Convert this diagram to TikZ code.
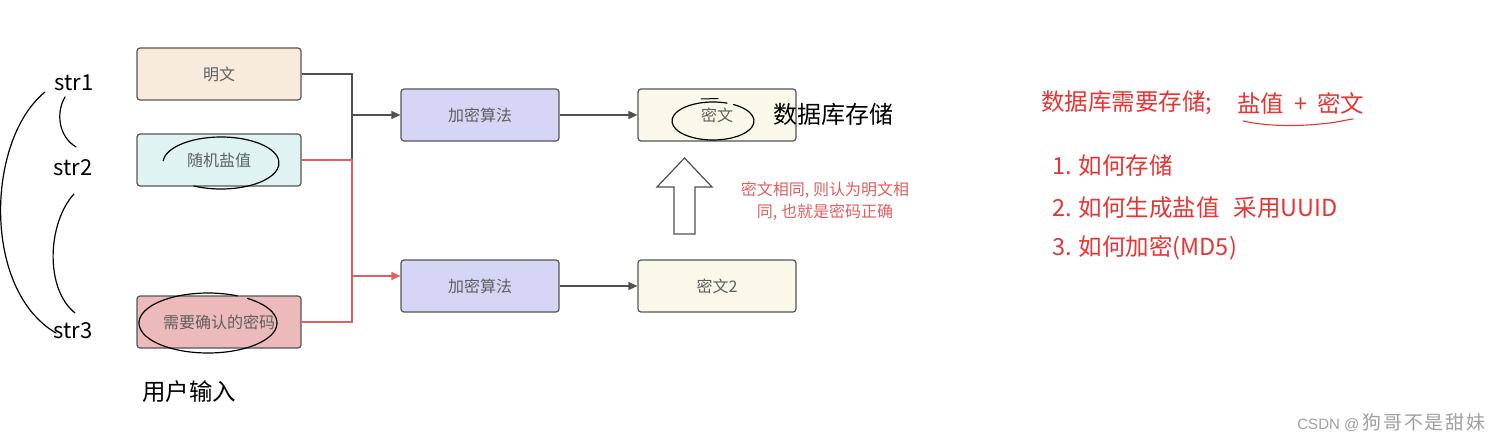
\documentclass[tikz,border=0pt]{standalone}
\usepackage{fontspec}
\setmainfont{Noto Sans CJK SC}
\newfontfamily\wmlatin{Liberation Sans}
\usetikzlibrary{arrows.meta}
\definecolor{boxline}{RGB}{85,85,85}
\definecolor{boxtext}{RGB}{95,95,95}
\definecolor{cPeach}{RGB}{248,234,220}
\definecolor{cCyan}{RGB}{223,243,243}
\definecolor{cPink}{RGB}{236,186,186}
\definecolor{cLav}{RGB}{213,214,245}
\definecolor{cCream}{RGB}{250,248,232}
\definecolor{gline}{RGB}{80,80,80}
\definecolor{rline}{RGB}{226,95,95}
\definecolor{redtxt}{RGB}{232,52,52}
\definecolor{notetxt}{RGB}{225,95,95}
\definecolor{wm}{RGB}{160,160,160}
\begin{document}
\begin{tikzpicture}[x=1pt,y=-1pt,
  box/.style={draw=boxline,line width=1.2pt,rounded corners=3pt,minimum width=164pt,minimum height=52pt,inner sep=0pt,font=\fontsize{16}{19}\selectfont,text=boxtext},
  gconn/.style={draw=gline,line width=1.3pt},
  rconn/.style={draw=rline,line width=1.3pt},
  tip/.style={-{Triangle[length=9pt,width=8pt]}},
  scribble/.style={draw=black,line width=1.2pt,line cap=round},
  lbl/.style={inner sep=0pt,font=\fontsize{22}{26}\selectfont},
  redlbl/.style={inner sep=0pt,font=\fontsize{23.5}{27}\selectfont,text=redtxt,anchor=west}]
\useasboundingbox[fill=white] (0,0) rectangle (1500,444);

% boxes
\node[box,fill=cPeach] (mw) at (219,74) {明文};
\node[box,fill=cCyan] (salt) at (219,160) {随机盐值};
\node[box,fill=cPink] (pw) at (219,322) {需要确认的密码};
\node[box,fill=cLav,minimum width=158pt] (enc1) at (480,115) {加密算法};
\node[box,fill=cLav,minimum width=158pt] (enc2) at (480,286) {加密算法};
\node[box,fill=cCream,minimum width=158pt] (ct1) at (717,115) {密文};
\node[box,fill=cCream,minimum width=158pt] (ct2) at (717,286) {密文2};

% junction coordinates
\coordinate (jt) at (352,74);
\coordinate (ja1) at (352,115);
\coordinate (jm) at (352,160);
\coordinate (ja2) at (352,276);
\coordinate (jb) at (352,322);

% connectors
\draw[gconn] (mw.east) -- (jt) -- (jm);
\draw[gconn,tip] (ja1) -- (enc1.west);
\draw[rconn] (salt.east) -- (jm) -- (jb) -- (pw.east);
\draw[rconn,-{Triangle[length=9pt,width=8pt,fill=rline]}] (ja2) -- (enc2.west |- ja2);
\draw[gconn,tip] (enc1.east) -- (ct1.west);
\draw[gconn,tip] (enc2.east) -- (ct2.west);

% hollow up arrow
\draw[draw=gline,line width=1.2pt,fill=white,line join=miter]
  (674,234) -- (674,187) -- (657,187) -- (684.5,158) -- (712,187) -- (695,187) -- (695,234) -- cycle;

% note
\node[inner sep=0pt,font=\fontsize{16}{22}\selectfont,text=notetxt,align=center] (note) at (825,201)
  {密文相同, 则认为明文相\\同, 也就是密码正确};

\node[lbl,font=\fontsize{24}{27}\selectfont] (db) at (833,114) {数据库存储};

% str labels
\node[lbl] (s1) at (74,83) {str1};
\node[lbl] (s2) at (73,168) {str2};
\node[lbl] (s3) at (73,331) {str3};
\coordinate (b1) at (45,92);
\coordinate (b3) at (56,333);
\coordinate (c1) at (65,97);
\coordinate (c2) at (76,147);
\coordinate (d2) at (74,194);
\coordinate (d3) at (75,313);
\draw[scribble] (b1) .. controls (-14,140) and (-18,290) .. (b3);
\draw[scribble] (c1) .. controls (56,112) and (58,136) .. (c2);
\draw[scribble] (d2) .. controls (48,222) and (44,288) .. (d3);

% hand-drawn circles
\draw[scribble] (221,163) ++(185:58 and 26) arc[start angle=185,end angle=478,x radius=58,y radius=26];
\draw[scribble] (208,323) ++(-55:69 and 30) arc[start angle=-55,end angle=295,x radius=69,y radius=30];
\draw[scribble] (713,121) ++(-60:41 and 19) arc[start angle=-60,end angle=290,x radius=41,y radius=19];
\draw[scribble,line width=1pt] (701,99) -- (718,98.5);

\node[lbl,font=\fontsize{23.5}{26}\selectfont,anchor=west] (ui) at (142,392) {用户输入};

% right side texts
\node[redlbl] (h1) at (1041,103) {数据库需要存储;};
\node[redlbl] (h2) at (1237,103) {盐值\hspace{10pt}+\hspace{10pt}密文};
\draw[draw=redtxt,line width=1.1pt,line cap=round] (1243,121) .. controls (1270,127) and (1300,126) .. (1320,124) .. controls (1335,123) and (1345,120) .. (1353,119);
\node[redlbl] (l1) at (1052,166) {1. 如何存储};
\node[redlbl] (l2) at (1052,208) {2. 如何生成盐值\hspace{14pt}采用UUID};
\node[redlbl] (l3) at (1052,248) {3. 如何加密(MD5)};

% watermark
\node[inner sep=0pt,anchor=east,text=wm] (wmk) at (1486,423) {{\wmlatin\fontsize{15}{18}\selectfont CSDN @}\hspace{3pt}{\fontsize{19}{22}\selectfont\addfontfeature{LetterSpace=10}狗哥不是甜妹}};
\end{tikzpicture}
\end{document}
